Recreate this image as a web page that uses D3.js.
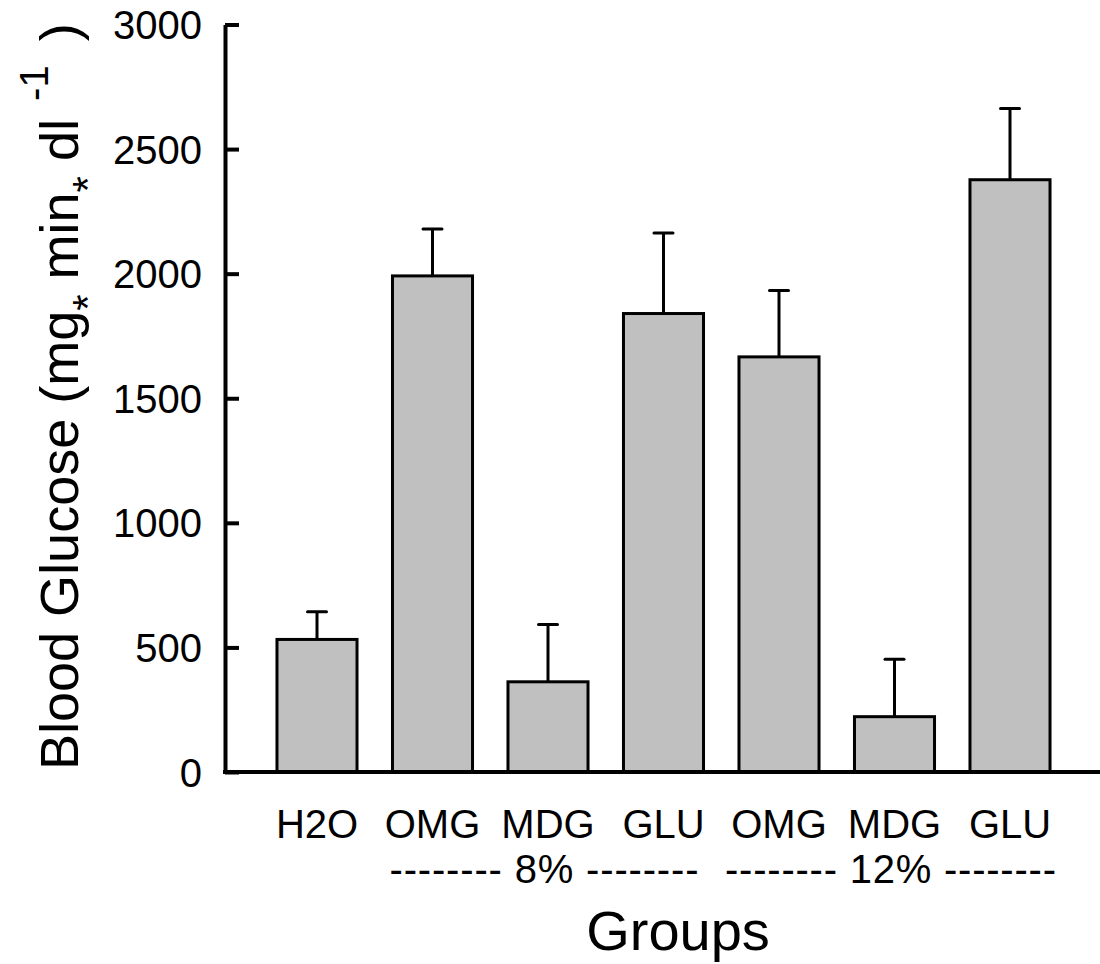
<!DOCTYPE html>
<html>
<head>
<meta charset="utf-8">
<script src="https://cdn.jsdelivr.net/npm/d3@7"></script>
<style>
  body { margin: 0; background: #fff; }
  text { font-family: "Liberation Sans", Arial, sans-serif; fill: #000; }
</style>
</head>
<body>
<svg id="chart" width="1100" height="964"></svg>
<script>
// values
var groups = ["H2O", "OMG", "MDG", "GLU", "OMG", "MDG", "GLU"];
var means = [532, 1991, 362, 1840, 1666, 222, 2377];
var errors = [111, 188, 230, 323, 266, 231, 286];
var yTicks = [0, 500, 1000, 1500, 2000, 2500, 3000];
var concLabels = ["-------- 8% --------", "-------- 12% --------"];
var concCenter = [2, 5]; // bar index each label is centred on

var svg = d3.select("#chart");

var x = d3.scaleBand()
    .domain(d3.range(groups.length))
    .range([259.25, 1067.75])
    .paddingInner(0.307)
    .paddingOuter(0.1535);

var y = d3.scaleLinear()
    .domain([0, 3000])
    .range([772, 24.5]);

var axisX = 225;

// bars
svg.append("g").selectAll("rect")
    .data(means)
  .enter().append("rect")
    .attr("x", function(d, i) { return x(i); })
    .attr("y", function(d) { return y(d); })
    .attr("width", x.bandwidth())
    .attr("height", function(d) { return y(0) - y(d); })
    .attr("fill", "#c0c0c0")
    .attr("stroke", "#000")
    .attr("stroke-width", 3);

// error bars (upper only)
var eb = svg.append("g").attr("stroke", "#000").attr("stroke-width", 3);
means.forEach(function(m, i) {
  var cx = x(i) + x.bandwidth() / 2;
  eb.append("line")
      .attr("x1", cx).attr("x2", cx)
      .attr("y1", y(m)).attr("y2", y(m + errors[i]));
  eb.append("line")
      .attr("x1", cx - 9.5).attr("x2", cx + 9.5)
      .attr("y1", y(m + errors[i])).attr("y2", y(m + errors[i]))
      .attr("stroke-linecap", "round");
});

// y axis, ticks pointing inward
var yAxis = d3.axisLeft(y)
    .tickValues(yTicks)
    .tickSizeInner(-14)
    .tickSizeOuter(0)
    .tickPadding(23)
    .tickFormat(d3.format("d"));

var gy = svg.append("g")
    .attr("transform", "translate(" + axisX + ",0)")
    .call(yAxis);
gy.attr("font-size", 40).attr("font-family", null);
gy.select(".domain").attr("stroke-width", 4);
gy.selectAll(".tick line").attr("stroke-width", 4);
gy.selectAll(".tick text").attr("dy", "0.35em");

// x axis line
svg.append("line")
    .attr("x1", axisX - 2).attr("x2", 1100)
    .attr("y1", y(0)).attr("y2", y(0))
    .attr("stroke", "#000")
    .attr("stroke-width", 4);

// category labels
svg.append("g").selectAll("text")
    .data(groups)
  .enter().append("text")
    .attr("x", function(d, i) { return x(i) + x.bandwidth() / 2; })
    .attr("y", 838)
    .attr("text-anchor", "middle")
    .attr("font-size", 40)
    .text(function(d) { return d; });

var concWidth = [309, 331];
svg.append("g").selectAll("text")
    .data(concLabels)
  .enter().append("text")
    .attr("x", function(d, i) { return x(concCenter[i]) + x.bandwidth() / 2 - 4; })
    .attr("y", 883)
    .attr("text-anchor", "middle")
    .attr("font-size", 40)
    .attr("textLength", function(d, i) { return concWidth[i]; })
    .attr("lengthAdjust", "spacing")
    .text(function(d) { return d; });

svg.append("text")
    .attr("x", 678)
    .attr("y", 950)
    .attr("text-anchor", "middle")
    .attr("font-size", 56)
    .text("Groups");

// y title with sub/superscripts
var yt = svg.append("text")
    .attr("transform", "translate(78,770) rotate(-90)")
    .attr("font-size", 54);
yt.append("tspan").text("Blood Glucose (mg");
yt.append("tspan").attr("font-size", 42).attr("dy", 24).text("*");
yt.append("tspan").attr("dy", -24).text(" min");
yt.append("tspan").attr("font-size", 42).attr("dy", 24).text("*");
yt.append("tspan").attr("dy", -24).text(" dl");
yt.append("tspan").attr("font-size", 40).attr("dy", -30).attr("dx", 7).text(" -1");
yt.append("tspan").attr("dy", 30).attr("dx", 9).text(" )");
</script>
</body>
</html>
